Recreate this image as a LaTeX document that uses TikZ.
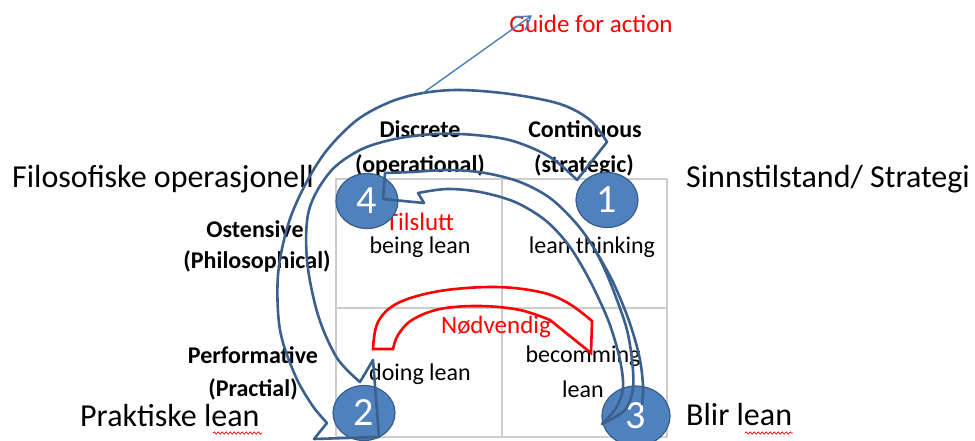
\documentclass[tikz,border=0pt]{standalone}
\usepackage{fontspec}
\setmainfont{Carlito}
\usetikzlibrary{calc,shapes.geometric,decorations.pathmorphing}
\definecolor{arrowblue}{RGB}{59,96,142}
\definecolor{discfill}{RGB}{79,129,189}
\definecolor{discedge}{RGB}{56,93,138}
\definecolor{gridgray}{RGB}{205,205,205}
\definecolor{guideblue}{RGB}{74,126,187}
\begin{document}
\begin{tikzpicture}[x=1pt,y=-1pt,
  blockarrow/.style={draw=arrowblue, line width=2.6pt, line join=round},
  redarrow/.style={draw=red, line width=2.6pt, line join=miter},
  disc/.style={ellipse, fill=discfill, draw=discedge, line width=1.2pt,
    minimum width=62pt, minimum height=55pt, inner sep=0pt, text=white,
    font=\fontsize{40}{40}\selectfont},
  head/.style={anchor=base, inner sep=0pt, font=\bfseries\fontsize{24}{26}\selectfont},
  cell/.style={anchor=base, inner sep=0pt, font=\fontsize{24}{26}\selectfont},
  side/.style={anchor=base west, inner sep=0pt, font=\fontsize{32}{36}\selectfont},
  redlabel/.style={anchor=base, inner sep=0pt, text=red, font=\fontsize{25}{27}\selectfont},
  wavy/.style={draw=red, line width=0.7pt, decorate,
    decoration={snake, amplitude=1.1pt, segment length=4pt}},
  guideline/.style={draw=guideblue, line width=1.4pt, line cap=round, line join=round},
]
\useasboundingbox (0,0) rectangle (975,441);

% 2x2 table
\draw[gridgray, line width=1.2pt] (336,179) rectangle (667,437);
\draw[gridgray, line width=1.2pt] (502,179) -- (502,437);
\draw[gridgray, line width=1.2pt] (336,308) -- (667,308);

% column headings
\node[head] (hdisc) at (420,138) {Discrete};
\node[head] (hoper) at (420,172) {(operational)};
\node[head] (hcont) at (585,138) {Continuous};
\node[head] (hstra) at (584,172) {(strategic)};

% row headings
\node[head] (host) at (255,237) {Ostensive};
\node[head] (hphil) at (257,268) {(Philosophical)};
\node[head] (hperf) at (253,363) {Performative};
\node[head] (hprac) at (253,396) {(Practial)};

% cell texts
\node[redlabel] (tilslutt) at (420,230) {Tilslutt};
\node[cell] (being) at (420,253) {being lean};
\node[cell] (thinking) at (592,253) {lean thinking};
\node[cell] (doing) at (420,380) {doing lean};
\node[cell] (becom) at (583,362) {becomming};
\node[cell] (becomlean) at (583,397) {lean};

% side captions
\node[side] (filo) at (12,187) {Filosofiske operasjonell};
\node[side] (sinn) at (686,187) {Sinnstilstand/ Strategi};
\node[side] (prak) at (80,426) {Praktiske lean};
\node[side] (blir) at (686,425) {Blir lean};
\draw[wavy] (213,433) -- (262,433);
\draw[wavy] (745,433) -- (793,433);

% numbered discs
\node[disc] (c4) at (367,201) {4};
\node[disc] (c1) at (607,200) {1};
\node[disc] (c2) at (364,413) {2};
\node[disc, minimum width=68pt, minimum height=60pt] (c3) at (636,416) {3};

% red curved arrow: doing lean -> becomming lean
\draw[redarrow] plot[smooth, tension=0.6] coordinates
  {(373,349) (378,322) (398,303) (440,291) (495,287) (540,292) (568,303) (592,321)}
  -- (591,353) -- (550,320)
  -- plot[smooth, tension=0.6] coordinates
  {(550,320) (520,310) (480,306) (440,309) (412,320) (398,335) (393,349)}
  -- cycle;
\node[redlabel] (nodv) at (496,333) {Nødvendig};

% big arrow 1 -> 2, over the top and down the left
\draw[blockarrow] plot[smooth, tension=0.55] coordinates
  {(607,142) (590,120) (560,104) (510,94) (460,90) (423,93) (390,102) (357,120)
   (327,150) (305,185) (288,225) (278,275) (280,330) (295,375) (312,405) (327,423)}
  -- (314,439) -- (379,437) -- (373,360) -- (360,382)
  -- plot[smooth, tension=0.55] coordinates
  {(360,382) (337,358) (318,315) (307,260) (309,210) (330,172) (360,150) (395,139)
   (435,134) (475,135) (513,141) (550,157) (577,180)}
  -- cycle;

% arrow 3 -> 4, up the right and over to the left
\draw[blockarrow] (413,172) -- (385,173) -- (383,199) -- (424,203) -- (418,193)
  -- plot[smooth, tension=0.55] coordinates
  {(418,193) (447,189) (480,192) (515,202) (545,220) (567,243) (583,268) (597,295)
   (610,325) (620,360) (623,388) (616,408) (602,424)}
  -- plot[smooth, tension=0.55] coordinates
  {(602,424) (625,410) (633,388) (632,360) (627,330) (617,300) (605,270) (592,245)
   (575,222) (550,198) (520,182) (485,173) (450,170) (413,172)}
  -- cycle;
\draw[blockarrow] plot[smooth, tension=0.55] coordinates
  {(594,248) (612,280) (628,318) (639,355) (643,385) (642,405)};

% guide for action: label, then a thin line with an open V head on top
\node[redlabel] (guide) at (591,33) {Guide for action};
\coordinate (gstart) at (423,93);
\coordinate (gtip) at (531,16);
\draw[guideline] (gstart) -- (gtip);
\draw[guideline] ($(gtip)!15pt!32:(gstart)$) -- (gtip) -- ($(gtip)!15pt!-32:(gstart)$);
\end{tikzpicture}
\end{document}
